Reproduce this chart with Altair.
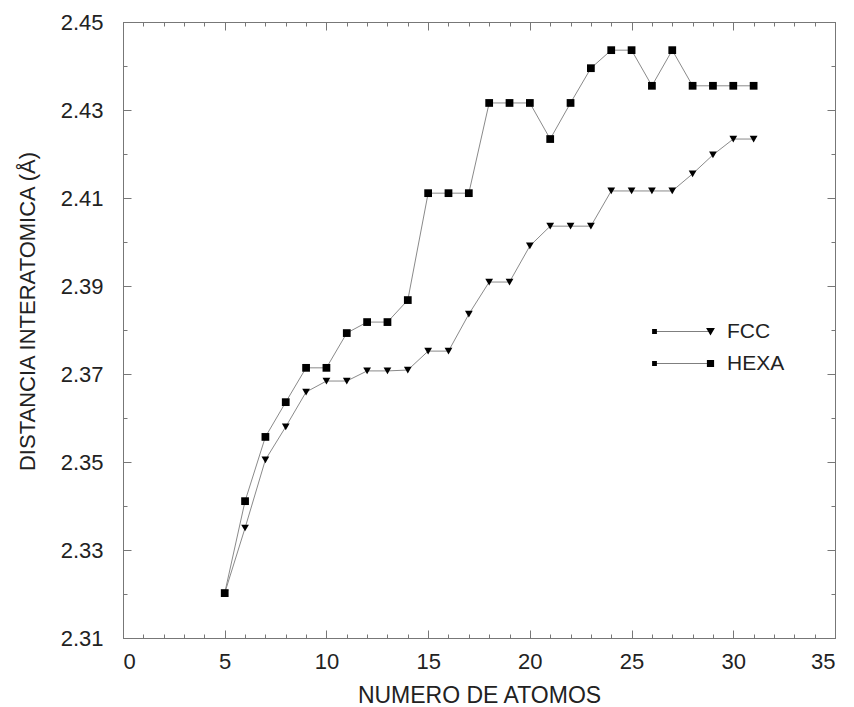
import altair as alt
import pandas as pd

atoms = list(range(5, 32))
fcc = [2.3202, 2.3350, 2.3505, 2.3580, 2.3659, 2.3684, 2.3684, 2.3707, 2.3707,
       2.3709, 2.3752, 2.3752, 2.3836, 2.3909, 2.3909, 2.3991, 2.4036, 2.4036,
       2.4036, 2.4116, 2.4116, 2.4116, 2.4116, 2.4155, 2.4198, 2.4234, 2.4234]
hexa = [2.3202, 2.3411, 2.3557, 2.3636, 2.3714, 2.3714, 2.3793, 2.3818, 2.3818,
        2.3868, 2.4111, 2.4111, 2.4111, 2.4316, 2.4316, 2.4316, 2.4234, 2.4316,
        2.4395, 2.4436, 2.4436, 2.4355, 2.4436, 2.4355, 2.4355, 2.4355, 2.4355]
series_names = ["FCC", "HEXA"]
x_major = [0, 5, 10, 15, 20, 25, 30, 35]
x_minor = list(range(0, 36))
y_major = [2.31, 2.33, 2.35, 2.37, 2.39, 2.41, 2.43, 2.45]
y_minor = [2.31, 2.32, 2.33, 2.34, 2.35, 2.36, 2.37, 2.38, 2.39, 2.40,
           2.41, 2.42, 2.43, 2.44, 2.45]

df = pd.DataFrame({
    "atoms": atoms + atoms,
    "dist": fcc + hexa,
    "series": [series_names[0]] * len(atoms) + [series_names[1]] * len(atoms),
})

FONT = "Liberation Sans"
TICK = "#777777"
LINE = "#8a8a8a"
TXT = "#222222"
xs = alt.Scale(domain=[0, 35], nice=False, zero=False)
ys = alt.Scale(domain=[2.31, 2.45], nice=False, zero=False)


def tick_axis(orient, values, size):
    return alt.Axis(orient=orient, values=values, labels=False, domain=False,
                    grid=False, ticks=True, tickSize=size, offset=-size,
                    tickColor=TICK, tickWidth=1, title="")


base = alt.Chart(df)

lines = base.mark_line(color=LINE, strokeWidth=1).encode(
    x=alt.X("atoms:Q", scale=xs, axis=alt.Axis(
        orient="bottom", values=x_major, ticks=False, domain=False, grid=False,
        labelFont=FONT, labelFontSize=22, labelColor=TXT, labelPadding=13,
        title="NUMERO DE ATOMOS", titleFont=FONT, titleFontSize=23,
        titleFontWeight="normal", titleColor=TXT, titlePadding=12)),
    y=alt.Y("dist:Q", scale=ys, axis=alt.Axis(
        orient="left", values=y_major, format=".2f", ticks=False, domain=False,
        grid=False, labelFont=FONT, labelFontSize=22, labelColor=TXT,
        labelPadding=20, title="DISTANCIA INTERATOMICA (Å)", titleFont=FONT,
        titleFontSize=22, titleFontWeight="normal", titleColor=TXT,
        titlePadding=21, titleY=289)),
    detail="series:N",
)

points = base.mark_point(filled=True, color="black", opacity=1, size=60).encode(
    x=alt.X("atoms:Q", scale=xs, axis=tick_axis("bottom", x_major, 8)),
    y=alt.Y("dist:Q", scale=ys, axis=tick_axis("left", y_major, 8)),
    shape=alt.Shape("series:N", scale=alt.Scale(domain=series_names,
                    range=["triangle-down", "square"]), legend=None),
)

# legend glyph: thin connecting bar + small left dot + series marker at right
P_FCC = ("M-7,-0.03L0,-0.03L0,0.03L-7,0.03Z"
         "M-7.3,-0.3L-6.7,-0.3L-6.7,0.3L-7.3,0.3Z"
         "M-0.55,-0.45L0.55,-0.45L0,0.5Z")
P_HEXA = ("M-7,-0.03L0,-0.03L0,0.03L-7,0.03Z"
          "M-7.3,-0.3L-6.7,-0.3L-6.7,0.3L-7.3,0.3Z"
          "M-0.45,-0.45L0.45,-0.45L0.45,0.45L-0.45,0.45Z")

legend = alt.Legend(
    orient="none", legendX=577, legendY=299, title=None, padding=0,
    labelFont=FONT, labelFontSize=21, labelColor=TXT, labelOffset=6,
    rowPadding=10, symbolSize=256, symbolOpacity=1,
    symbolFillColor="black", symbolStrokeColor=LINE, symbolStrokeWidth=1,
)

legend_layer = base.transform_filter("datum.atoms < 0").mark_point(
    filled=True, color="black", size=256
).encode(
    x=alt.X("atoms:Q", scale=xs, axis=tick_axis("bottom", x_minor, 4)),
    y=alt.Y("dist:Q", scale=ys, axis=tick_axis("left", y_minor, 4)),
    shape=alt.Shape("series:N", scale=alt.Scale(domain=series_names,
                    range=[P_FCC, P_HEXA]), legend=legend),
)

ghost = base.mark_point(opacity=0)
l4 = ghost.encode(
    x=alt.X("atoms:Q", scale=xs, axis=tick_axis("top", x_major, 8)),
    y=alt.Y("dist:Q", scale=ys, axis=tick_axis("right", y_major, 8)),
)
l5 = ghost.encode(
    x=alt.X("atoms:Q", scale=xs, axis=tick_axis("top", x_minor, 4)),
    y=alt.Y("dist:Q", scale=ys, axis=tick_axis("right", y_minor, 4)),
)

chart = alt.layer(lines, points, legend_layer, l4, l5).resolve_axis(
    x="independent", y="independent"
).resolve_scale(shape="independent").properties(
    width=712, height=616,
    autosize=alt.AutoSizeParams(type="none"),
    padding={"left": 123, "top": 22, "right": 19, "bottom": 69},
    background="white",
).configure_view(stroke="#777777", strokeWidth=1)

chart.save("out.html", embed_options={"renderer": "svg", "actions": False})
